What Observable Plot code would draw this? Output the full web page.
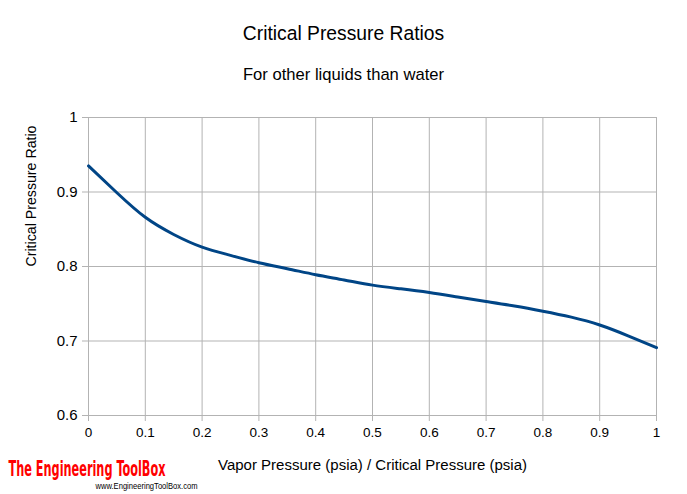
<!DOCTYPE html>
<html>
<head>
<meta charset="utf-8">
<script src="https://cdn.jsdelivr.net/npm/d3@7"></script>
<script src="https://cdn.jsdelivr.net/npm/@observablehq/plot@0.6"></script>
<style>
  html, body { margin: 0; padding: 0; background: #fff; }
  svg { display: block; }
</style>
</head>
<body>
<div id="chart"></div>
<script>
const titleText = "Critical Pressure Ratios";
const subtitleText = "For other liquids than water";
const xLabel = "Vapor Pressure (psia) / Critical Pressure (psia)";
const yLabel = "Critical Pressure Ratio";
const logoText = "The Engineering ToolBox";
const logoUrl = "www.EngineeringToolBox.com";

const ratioX = [0, 0.05, 0.1, 0.15, 0.2, 0.25, 0.3, 0.35, 0.4, 0.45, 0.5, 0.55, 0.6, 0.65, 0.7, 0.75, 0.8, 0.85, 0.9, 0.95, 1.0];
const ratioY = [0.935, 0.899, 0.866, 0.843, 0.826, 0.815, 0.805, 0.797, 0.789, 0.782, 0.775, 0.770, 0.765, 0.759, 0.753, 0.747, 0.740, 0.732, 0.7215, 0.707, 0.691];

const xTicks = [0, 0.1, 0.2, 0.3, 0.4, 0.5, 0.6, 0.7, 0.8, 0.9, 1];
const yTicks = [0.6, 0.7, 0.8, 0.9, 1];

const data = ratioX.map((x, i) => ({x, y: ratioY[i]}));
const fmt = d => d === 0 ? "0" : d === 1 ? "1" : String(d);
const gridColor = "#b3b3b3";

const chart = Plot.plot({
  width: 687,
  height: 494,
  marginLeft: 88,
  marginRight: 31,
  marginTop: 117,
  marginBottom: 79,
  style: {fontFamily: "'Liberation Sans', Arial, sans-serif", background: "#fff", color: "#000"},
  x: {domain: [0, 1]},
  y: {domain: [0.6, 1]},
  marks: [
    Plot.gridX(xTicks, {stroke: gridColor, strokeOpacity: 1, strokeWidth: 1}),
    Plot.gridY(yTicks, {stroke: gridColor, strokeOpacity: 1, strokeWidth: 1}),
    Plot.ruleX([0], {stroke: gridColor}),
    Plot.ruleY([0.6], {stroke: gridColor}),
    Plot.axisX(xTicks, {tickSize: 6, stroke: gridColor, tickFormat: fmt, fontSize: 13.5, tickPadding: 6, label: null, fill: "#000"}),
    Plot.axisY(yTicks, {tickSize: 6, stroke: gridColor, tickFormat: fmt, fontSize: 15, tickPadding: 5, label: null, fill: "#000"}),
    Plot.line(data, {x: "x", y: "y", stroke: "#004586", strokeWidth: 3, curve: "natural"}),
    Plot.text([titleText], {frameAnchor: "top", dx: -29, dy: -84, fontSize: 19.3, fill: "#000", lineAnchor: "middle"}),
    Plot.text([subtitleText], {frameAnchor: "top", dx: -29, dy: -43, fontSize: 16.6, fill: "#000", lineAnchor: "middle"}),
    Plot.text([xLabel], {frameAnchor: "bottom", dy: 50, fontSize: 14, fill: "#000", lineAnchor: "middle"}),
    Plot.text([yLabel], {frameAnchor: "left", dx: -57, rotate: -90, fontSize: 14, fill: "#000", lineAnchor: "middle"}),
    Plot.text([logoText], {frameAnchor: "bottom-left", dx: -80, dy: 54, textAnchor: "start", fontSize: 12, fontWeight: "bold", fill: "#ff0000", lineAnchor: "middle", fontFamily: "'DejaVu Sans Condensed', 'Liberation Sans Narrow', sans-serif"}),
    Plot.text([logoUrl], {frameAnchor: "bottom-left", dx: 7, dy: 71, textAnchor: "start", fontSize: 9, fill: "#000", lineAnchor: "middle"})
  ]
});
document.getElementById("chart").appendChild(chart);

const fit = {};
fit[xLabel] = 309;
fit[yLabel] = 141;
fit[logoText] = 157;
fit[logoUrl] = 102;
d3.select(chart).selectAll("text").each(function() {
  const t = this.textContent;
  const sel = d3.select(this);
  if (fit[t]) {
    sel.attr("textLength", fit[t]).attr("lengthAdjust", "spacingAndGlyphs");
  }
  if (t === logoText) {
    let tr = sel.attr("transform");
    if (!tr) {
      const x = +sel.attr("x") || 0, y = +sel.attr("y") || 0;
      sel.attr("x", null).attr("y", null);
      tr = `translate(${x},${y})`;
    }
    sel.attr("transform", tr + " scale(1,1.75)");
  }
});
</script>
</body>
</html>
